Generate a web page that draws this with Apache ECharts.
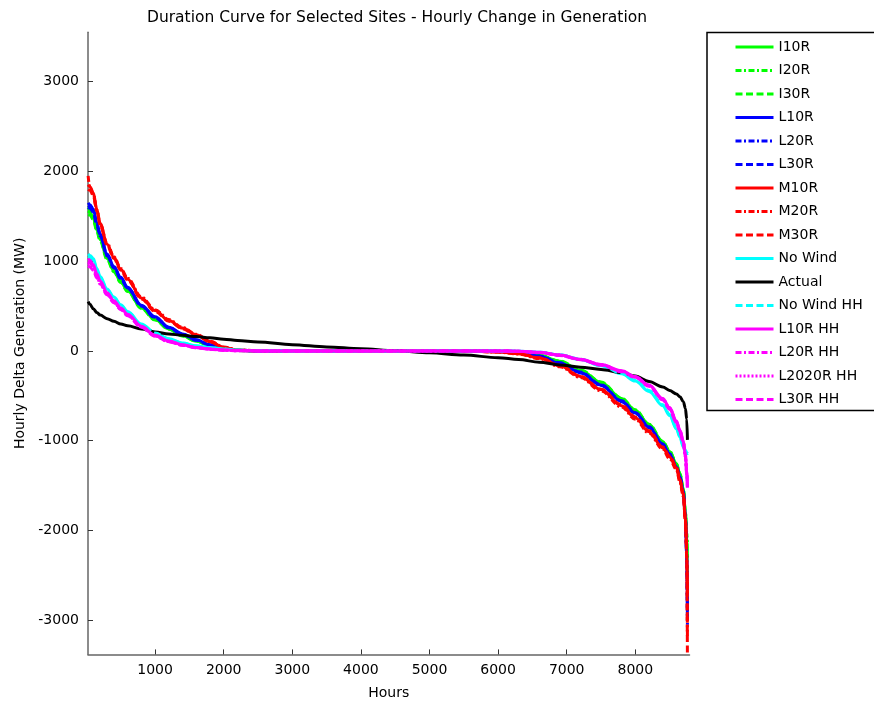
<!DOCTYPE html>
<html>
<head>
<meta charset="utf-8">
<script src="https://cdn.jsdelivr.net/npm/echarts@6/dist/echarts.min.js"></script>
<style>html,body{margin:0;padding:0;background:#fff}#c{width:874px;height:706px}</style>
</head>
<body>
<div id="c"></div>
<script>
const hours = [24,50,100,150,200,300,400,500,600,800,1000,1200,1400,1600,1800,2000,2200,2500,3000,3500,4000,4500,5000,5500,6000,6300,6600,6900,7200,7500,7800,8000,8200,8400,8500,8600,8650,8700,8730,8750,8760];
const xTicks = [1000,2000,3000,4000,5000,6000,7000,8000];
const yTicks = [-3000,-2000,-1000,0,1000,2000,3000];

const I10R = [1560,1545,1480,1350,1240,1030,890,770,670,480,350,245,170,110,60,25,6,1,0,0,0,0,0,0,-3,-15,-50,-115,-215,-350,-530,-660,-820,-1010,-1120,-1260,-1370,-1540,-1800,-2050,-2300];
const I20R = [1600,1570,1500,1370,1255,1045,900,780,678,487,356,249,173,112,62,26,6,1,0,0,0,0,0,0,-4,-16,-52,-118,-220,-355,-535,-665,-825,-1015,-1125,-1265,-1375,-1545,-1790,-2020,-2150];
const I30R = [1520,1515,1460,1335,1225,1020,880,762,662,474,345,241,167,108,58,24,5,1,0,0,0,0,0,0,-3,-14,-48,-112,-210,-345,-525,-655,-815,-1005,-1115,-1255,-1365,-1535,-1810,-2100,-2500];
const L10R = [1650,1630,1580,1430,1300,1080,940,820,710,510,380,265,190,125,70,30,8,1,0,0,0,0,0,0,-5,-20,-60,-135,-240,-380,-560,-690,-850,-1040,-1150,-1290,-1400,-1570,-1850,-2250,-2900];
const L20R = [1620,1610,1560,1415,1290,1070,930,812,702,505,375,262,186,122,68,28,7,1,0,0,0,0,0,0,-6,-22,-62,-138,-245,-385,-565,-695,-855,-1045,-1155,-1295,-1410,-1580,-1870,-2300,-3050];
const L30R = [1600,1590,1545,1400,1280,1060,925,805,698,500,370,258,183,120,66,27,7,1,0,0,0,0,0,0,-4,-18,-57,-130,-235,-375,-555,-685,-845,-1035,-1145,-1285,-1400,-1565,-1860,-2280,-3000];
const M10R = [1850,1830,1760,1580,1420,1190,1040,910,800,590,450,340,255,180,105,40,10,2,0,0,0,0,0,0,-10,-30,-78,-165,-285,-430,-610,-745,-900,-1080,-1180,-1300,-1440,-1600,-1880,-2200,-2700];
const M20R = [1950,1820,1750,1570,1410,1200,1050,920,810,600,460,350,262,185,110,45,12,3,0,0,0,0,0,0,-12,-35,-85,-175,-295,-445,-625,-760,-915,-1095,-1200,-1320,-1460,-1620,-1900,-2300,-3200];
const M30R = [1800,1790,1730,1560,1400,1180,1030,900,790,580,440,332,248,175,100,38,9,2,0,0,0,0,0,0,-9,-28,-75,-160,-280,-425,-600,-735,-890,-1070,-1170,-1290,-1430,-1590,-1870,-2250,-3500];
const NoWind = [1080,1065,1030,920,830,690,600,515,440,300,205,137,88,58,38,22,10,3,0,0,0,0,0,0,0,-3,-15,-45,-95,-165,-255,-335,-450,-610,-720,-870,-960,-1070,-1120,-1150,-1160];
const Actual = [550,520,470,430,400,360,330,300,280,245,212,190,174,160,147,132,118,100,70,45,25,5,-20,-45,-75,-95,-125,-155,-180,-205,-240,-280,-340,-400,-440,-480,-510,-565,-640,-760,-990];
const NoWindHH = [1050,1045,1010,905,815,680,590,505,432,295,200,133,85,56,36,21,9,3,0,0,0,0,0,0,0,-3,-14,-43,-92,-160,-248,-325,-440,-598,-708,-855,-945,-1055,-1105,-1130,-1140];
const L10RHH = [1030,1010,960,860,780,650,560,480,410,275,175,110,68,40,22,10,4,1,0,0,0,0,0,0,0,-2,-15,-45,-92,-150,-220,-285,-380,-530,-630,-780,-880,-1000,-1150,-1330,-1480];
const L20RHH = [1000,985,935,840,765,640,550,470,402,270,170,107,66,38,21,9,4,1,0,0,0,0,0,0,0,-3,-17,-48,-96,-155,-226,-292,-388,-540,-642,-795,-895,-1020,-1180,-1380,-1550];
const L2020RHH = [980,965,925,832,758,634,545,466,398,267,168,105,65,37,20,9,3,1,0,0,0,0,0,0,0,-2,-16,-46,-94,-152,-223,-288,-384,-535,-636,-788,-888,-1010,-1165,-1350,-1500];
const L30RHH = [950,935,900,815,745,625,538,460,393,263,165,103,63,36,20,8,3,1,0,0,0,0,0,0,0,-3,-18,-50,-98,-158,-230,-296,-392,-545,-648,-800,-900,-1025,-1175,-1365,-1520];

const DASH = [7, 3.5];
const DASHDOT = [6, 2.5, 2, 2.5];
const DOT = [2, 2];
const seriesDefs = [
  ['I10R', I10R, '#00ff00', 'solid'],
  ['I20R', I20R, '#00ff00', DASHDOT],
  ['I30R', I30R, '#00ff00', DASH],
  ['L10R', L10R, '#0000ff', 'solid'],
  ['L20R', L20R, '#0000ff', DASHDOT],
  ['L30R', L30R, '#0000ff', DASH],
  ['M10R', M10R, '#ff0000', 'solid'],
  ['M20R', M20R, '#ff0000', DASHDOT],
  ['M30R', M30R, '#ff0000', DASH],
  ['No Wind', NoWind, '#00ffff', 'solid'],
  ['Actual', Actual, '#000000', 'solid'],
  ['No Wind HH', NoWindHH, '#00ffff', DASH],
  ['L10R HH', L10RHH, '#ff00ff', 'solid'],
  ['L20R HH', L20RHH, '#ff00ff', DASHDOT],
  ['L2020R HH', L2020RHH, '#ff00ff', DOT],
  ['L30R HH', L30RHH, '#ff00ff', DASH]
];

const FONT = 'DejaVu Sans';
const chart = echarts.init(document.getElementById('c'), null, {renderer: 'canvas'});
chart.setOption({
  animation: false,
  backgroundColor: '#fff',
  title: {
    text: 'Duration Curve for Selected Sites - Hourly Change in Generation',
    left: 392, top: 5, textAlign: 'center',
    textStyle: {fontFamily: FONT, fontSize: 15.5, fontWeight: 'normal', color: '#000'}
  },
  grid: {left: 88, right: 184.5, top: 32.3, bottom: 51.6, containLabel: false},
  legend: {
    orient: 'vertical', left: 707, top: 32.5,
    itemWidth: 38, itemHeight: 14, itemGap: 9.5,
    padding: [7.5, 14, 4, 27],
    borderColor: '#000', borderWidth: 1.5, backgroundColor: '#fff',
    itemStyle: {opacity: 0, borderWidth: 0},
    lineStyle: {width: 3},
    textStyle: {fontFamily: FONT, fontSize: 14, color: '#000'},
    data: seriesDefs.map(d => d[0])
  },
  xAxis: {
    type: 'value', min: 22, max: 8790,
    name: 'Hours', nameLocation: 'middle', nameGap: 32,
    nameTextStyle: {fontFamily: FONT, fontSize: 14, color: '#000'},
    axisLine: {show: true, onZero: false, lineStyle: {color: '#666', width: 1.5}},
    axisTick: {show: true, inside: true, length: 5, customValues: xTicks, lineStyle: {color: '#333'}},
    axisLabel: {customValues: xTicks, formatter: v => String(v), fontFamily: FONT, fontSize: 14, color: '#000', margin: 9},
    splitLine: {show: false}
  },
  yAxis: {
    type: 'value', min: -3380, max: 3550,
    name: 'Hourly Delta Generation (MW)', nameLocation: 'middle', nameGap: 57,
    nameTextStyle: {fontFamily: FONT, fontSize: 14, color: '#000'},
    axisLine: {show: true, onZero: false, lineStyle: {color: '#666', width: 1.5}},
    axisTick: {show: true, inside: true, length: 5, customValues: yTicks, lineStyle: {color: '#333'}},
    axisLabel: {customValues: yTicks, formatter: v => String(v), fontFamily: FONT, fontSize: 14, color: '#000', margin: 9},
    splitLine: {show: false}
  },
  series: seriesDefs.map(d => ({
    name: d[0], type: 'line', symbol: 'none', showSymbol: false,
    smooth: 0.35, smoothMonotone: 'x',
    data: hours.map((h, i) => [h, d[1][i]]),
    lineStyle: {color: d[2], width: 3, type: d[3]},
    itemStyle: {color: d[2]},
    emphasis: {disabled: true}
  }))
});
</script>
</body>
</html>
